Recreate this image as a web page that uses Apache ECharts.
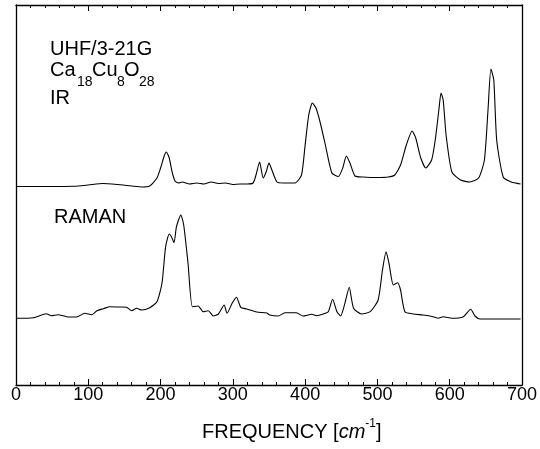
<!DOCTYPE html>
<html>
<head>
<meta charset="utf-8">
<script src="https://cdn.jsdelivr.net/npm/echarts@6/dist/echarts.min.js"></script>
<style>html,body{margin:0;padding:0;background:#fff}#c{width:540px;height:449px}</style>
</head>
<body>
<div id="c"></div>
<script>
// IR spectrum (upper trace): frequency [cm^-1], intensity (arb. units)
var irFreq = [0,40,80,100,120,140,160,175,185,195,200,205,208,212,216,220,225,230,240,250,260,270,280,290,300,310,320,328,332,337,342,346,350,354,361,370,386,395,400,405,410,415,421,428,437,446,452,457,462,469,480,500,515,524,532,540,548,553,560,567,575,580,585,588,591,595,603,615,628,640,648,653,657,661,665,674,685,698];
var irInt  = [198.5,198.5,198.7,200,201.5,200.5,199,198,199,207,217,229,233,227,213,204,202,203,201,202,201,203,201.5,202,200.5,201,201,202,210,223,207,213,222,215,203,202,202,210,240,270,282,277,262,240,212,208.5,217,229,222,209,208,207.5,208,210,220,240,254,247,227,217,225,245,275,292,285,250,213,205,203,207,225,275,316,305,245,208,203,201];
// RAMAN spectrum (lower trace)
var ramanFreq = [0,24,42,49,58,70,84,95,105,112,121,130,144,153,160,167,174,185,195,202,207,212,215,218.6,222,228,232,238,244,252,259,266,273,280,288,292,299,305,311,319,333,347,351,363,372,388,397,409,416,425,432,438,444,449,455,461,467,478,490,501,507,512,516,522,528,532,538,550,563,577,584,591,603,619,629,635,642,698];
var ramanInt  = [66.7,67.3,71.3,69.3,70.3,68.3,68,71.7,70.3,74.3,76.3,78.3,78,77.7,74.3,76.7,75,77.3,83.3,102,138.3,151,148.3,142.3,158.3,170,160,121.7,78.3,79,73.3,74.3,69,71,80,71.7,81.7,87.7,77.7,76,73,72,70,69,72.3,72.3,69,70.7,69.3,71,73.3,85.7,73.3,69,81.7,97.7,76.7,71,73.3,85,115,133.3,121.7,100,102.3,95,73.3,71,70,68.3,66.7,68.3,66.7,68.3,75.7,69,66,66];
var xTicks = [0,100,200,300,400,500,600,700];

function pairs(xs, ys){ return xs.map(function(x,i){ return [x, ys[i]]; }); }

var chart = echarts.init(document.getElementById('c'), null, {renderer:'canvas'});
var FONT = 'Liberation Sans, Arial, sans-serif';
var axisCommon = {
  type:'value', min:0, max:700, interval:100,
  axisLine:{show:true, onZero:false, lineStyle:{color:'#000', width:1.3}},
  axisTick:{show:true, inside:true, length:6, lineStyle:{color:'#000'}},
  minorTick:{show:true, splitNumber:5, length:3, lineStyle:{color:'#000'}},
  splitLine:{show:false}
};
function t(txt, x, y, size){ return {type:'text', left:x, top:y, style:{text:txt, fontSize:size, fill:'#000', fontFamily:FONT}}; }
chart.setOption({
  animation:false,
  backgroundColor:'#fff',
  grid:{left:16, right:18, top:5, bottom:64, containLabel:false},
  xAxis:[
    Object.assign({}, axisCommon, {position:'bottom',
      axisLabel:{show:true, margin:1, fontSize:18, color:'#000', fontFamily:FONT,
        formatter:function(v){ return xTicks.indexOf(v)>=0 ? String(v) : ''; }}}),
    Object.assign({}, axisCommon, {position:'top', axisLabel:{show:false}})
  ],
  yAxis:[
    {type:'value', min:0, max:380, position:'left', axisLine:{show:true, onZero:false, lineStyle:{color:'#000', width:1.3}},
     axisTick:{show:false}, axisLabel:{show:false}, splitLine:{show:false}},
    {type:'value', min:0, max:380, position:'right', axisLine:{show:true, onZero:false, lineStyle:{color:'#000', width:1.3}},
     axisTick:{show:false}, axisLabel:{show:false}, splitLine:{show:false}}
  ],
  series:[
    {type:'line', name:'IR', data:pairs(irFreq, irInt), showSymbol:false, smooth:0.2,
     lineStyle:{color:'#000', width:1.1}},
    {type:'line', name:'RAMAN', data:pairs(ramanFreq, ramanInt), showSymbol:false, smooth:0.2,
     lineStyle:{color:'#000', width:1.1}}
  ],
  graphic:[
    t('UHF/3-21G', 50, 39, 20),
    t('Ca', 50, 60, 20), t('18', 77, 75, 14),
    t('Cu', 92, 60, 20), t('8', 117, 75, 14),
    t('O', 124, 60, 20), t('28', 139, 75, 14),
    t('IR', 50, 88, 20),
    t('RAMAN', 54, 207, 20),
    {type:'text', left:202, top:418, style:{
      text:'{n|FREQUENCY [}{i|cm}{p|-1}{n|]}', fontFamily:FONT, fill:'#000',
      rich:{
        n:{fontSize:20, fontFamily:FONT, color:'#000', verticalAlign:'bottom', lineHeight:24},
        i:{fontSize:20, fontFamily:FONT, fontStyle:'italic', color:'#000', verticalAlign:'bottom', lineHeight:24},
        p:{fontSize:12, fontFamily:FONT, color:'#000', verticalAlign:'top', lineHeight:24}
      }}}
  ]
});
</script>
</body>
</html>
